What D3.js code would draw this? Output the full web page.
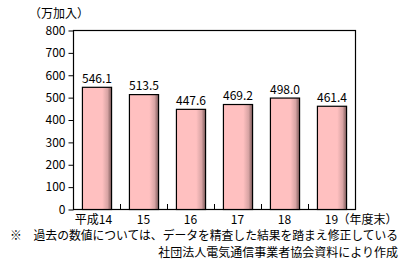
<!DOCTYPE html>
<html lang="ja">
<head>
<meta charset="UTF-8">
<title>加入数の推移</title>
<script src="https://d3js.org/d3.v7.min.js"></script>
<style>
  body { margin: 0; background: #fff; }
  text { font-family: "Noto Sans CJK JP", sans-serif; fill: #000; }
</style>
</head>
<body>
<svg width="410" height="268"></svg>
<script>
// データ
const categories = ["平成14", "15", "16", "17", "18", "19"];
const values = [546.1, 513.5, 447.6, 469.2, 498.0, 461.4];
const yTicks = [0, 100, 200, 300, 400, 500, 600, 700, 800];
const unitLabel = "（万加入）";
const xSuffix = "（年度末）";
const notes = [
  "※　過去の数値については、データを精査した結果を踏まえ修正している",
  "社団法人電気通信事業者協会資料により作成"
];

const svg = d3.select("svg");
const plotL = 73, plotR = 355, plotT = 30, plotB = 209;

const x = d3.scaleBand().domain(categories).range([plotL, plotR]).paddingInner(0.38).paddingOuter(0.19);
const y = d3.scaleLinear().domain([0, 800]).range([plotB, plotT]);

// グラデーション
const grad = svg.append("defs").append("linearGradient").attr("id", "barGrad")
  .attr("x1", "0%").attr("x2", "100%");
grad.append("stop").attr("offset", "0%").attr("stop-color", "#ffc0c0");
grad.append("stop").attr("offset", "68%").attr("stop-color", "#ffc0c0");
grad.append("stop").attr("offset", "86%").attr("stop-color", "#d8a4a4");
grad.append("stop").attr("offset", "100%").attr("stop-color", "#7a5858");

// 枠
svg.append("rect")
  .attr("x", plotL + 0.5).attr("y", plotT + 0.5)
  .attr("width", plotR - plotL).attr("height", plotB - plotT)
  .attr("fill", "none").attr("stroke", "#000").attr("stroke-width", 1.2);

// 棒
svg.selectAll(".bar").data(values).enter().append("rect")
  .attr("class", "bar")
  .attr("x", (d, i) => x(categories[i]) + 0.5)
  .attr("y", d => y(d) + 0.5)
  .attr("width", x.bandwidth())
  .attr("height", d => plotB - y(d))
  .attr("fill", "url(#barGrad)")
  .attr("stroke", "#000").attr("stroke-width", 1.2);

// 値ラベル
svg.selectAll(".val").data(values).enter().append("text")
  .attr("x", (d, i) => x(categories[i]) + x.bandwidth() / 2 + 0.5)
  .attr("y", d => y(d) - 4)
  .attr("text-anchor", "middle")
  .attr("font-size", 12)
  .text(d => d.toFixed(1));

// Y軸
const yAxis = svg.append("g").attr("transform", `translate(${plotL + 0.5},0.5)`)
  .call(d3.axisLeft(y).tickValues(yTicks).tickSize(5).tickPadding(3));
yAxis.select(".domain").remove();
yAxis.selectAll("line").attr("stroke", "#000");
yAxis.selectAll("text").attr("font-size", 12).attr("font-family", "Noto Sans CJK JP, sans-serif");

// カテゴリ境界の目盛り
const step = x.step();
svg.selectAll(".sep").data(categories.slice(1)).enter().append("line")
  .attr("x1", (d) => x(d) - step * x.paddingInner() / 2 + 0.5)
  .attr("x2", (d) => x(d) - step * x.paddingInner() / 2 + 0.5)
  .attr("y1", plotB).attr("y2", plotB - 5)
  .attr("stroke", "#000");

// X軸ラベル
svg.selectAll(".cat").data(categories).enter().append("text")
  .attr("x", d => x(d) + x.bandwidth() / 2 + (d === categories[0] ? -3 : 0))
  .attr("y", plotB + 15)
  .attr("text-anchor", "middle")
  .attr("font-size", 12)
  .text(d => d);
const lastX = x(categories[categories.length - 1]) + x.bandwidth() / 2;
svg.append("text").attr("x", lastX + 6).attr("y", plotB + 15)
  .attr("font-size", 12).text(xSuffix);

// 単位
svg.append("text").attr("x", 29).attr("y", 18).attr("font-size", 12).text(unitLabel);

// 注記
svg.append("text").attr("x", 10).attr("y", 240).attr("font-size", 12)
  .attr("textLength", 388).attr("lengthAdjust", "spacingAndGlyphs").text(notes[0]);
svg.append("text").attr("x", 398).attr("y", 257).attr("font-size", 12)
  .attr("text-anchor", "end").text(notes[1]);
</script>
</body>
</html>
